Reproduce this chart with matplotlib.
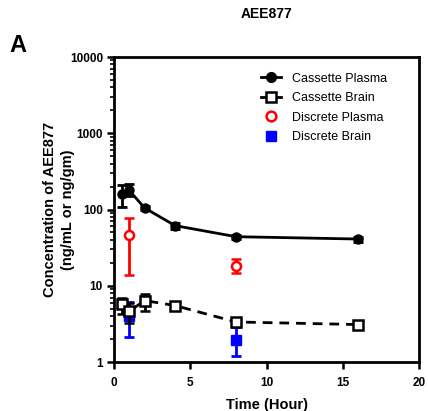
import matplotlib
matplotlib.use("Agg")
import matplotlib.pyplot as plt
from matplotlib.lines import Line2D
import numpy as np

plt.rcParams["font.family"] = ["Liberation Sans", "DejaVu Sans"]
plt.rcParams["font.weight"] = "bold"

# Cassette dosing (mean with low/high error limits)
cas_t = [0.5, 1, 2, 4, 8, 16]
cas_plasma = [161, 178, 105, 61.5, 44, 41]
cas_plasma_lo = [109, 152, 98, 56, 41, 38]
cas_plasma_hi = [211, 213, 112, 67, 47, 44]

cas_brain = [5.7, 4.6, 6.4, 5.5, 3.35, 3.1]
cas_brain_lo = [4.2, 3.2, 4.6, 5.1, 3.1, 2.95]
cas_brain_hi = [7.0, 5.9, 7.9, 5.9, 3.6, 3.25]

# Discrete dosing
dis_t = [1, 8]
dis_plasma = [46, 18.3]
dis_plasma_lo = [13.7, 14.7]
dis_plasma_hi = [78, 22.7]

dis_brain = [4.0, 1.96]
dis_brain_lo = [2.1, 1.2]
dis_brain_hi = [6.2, 2.9]

x_ticks = [0, 5, 10, 15, 20]
y_ticks = [1, 10, 100, 1000, 10000]
labels = ["Cassette Plasma", "Cassette Brain", "Discrete Plasma", "Discrete Brain"]


def err(mean, lo, hi):
    m = np.array(mean)
    return [m - np.array(lo), np.array(hi) - m]


fig = plt.figure(figsize=(4.28, 4.11), dpi=100)
ax = fig.add_axes([0.2664, 0.1192, 0.7126, 0.7421])

eb = dict(capsize=3.5, capthick=2, elinewidth=2)
ax.errorbar(cas_t, cas_plasma, yerr=err(cas_plasma, cas_plasma_lo, cas_plasma_hi),
            color="black", lw=2, marker="o", ms=6.5, zorder=4, **eb)
ax.errorbar(cas_t, cas_brain, yerr=err(cas_brain, cas_brain_lo, cas_brain_hi),
            color="black", lw=2, ls=(0, (3.5, 2.5)), marker="s", ms=6.5, mfc="white",
            mew=1.8, zorder=4, **eb)
ax.errorbar(dis_t, dis_plasma, yerr=err(dis_plasma, dis_plasma_lo, dis_plasma_hi),
            color="red", ls="none", marker="o", ms=6.5, mfc="white", mew=1.8,
            zorder=3, **eb)
ax.errorbar(dis_t, dis_brain, yerr=err(dis_brain, dis_brain_lo, dis_brain_hi),
            color="blue", ls="none", marker="s", ms=6.5, zorder=2, **eb)

ax.set_yscale("log")
ax.set_ylim(1, 10000)
ax.set_xlim(0, 20)
ax.set_xticks(x_ticks)
ax.set_yticks(y_ticks)
ax.set_yticklabels([str(v) for v in y_ticks])
ax.tick_params(axis="both", which="major", direction="out", width=1.8, length=5,
               labelsize=8.5, pad=3)
ax.tick_params(axis="x", which="major", pad=6)
ax.tick_params(axis="y", which="minor", direction="out", width=1.2, length=3)
for s in ax.spines.values():
    s.set_linewidth(2)

ax.set_xlabel("Time (Hour)", fontsize=10.5, fontweight="bold")
ax.set_ylabel("Concentration of AEE877\n(ng/mL or ng/gm)", fontsize=10.5,
              fontweight="bold", linespacing=1.4)
ax.yaxis.set_label_coords(-0.128, 0.5)
ax.xaxis.set_label_coords(0.5, -0.118)

fig.text(0.622, 0.966, "AEE877", ha="center", va="center", fontsize=10,
         fontweight="bold")
fig.text(0.042, 0.889, "A", ha="center", va="center", fontsize=17,
         fontweight="bold")

handles = [
    Line2D([], [], color="black", lw=2, marker="o", ms=7),
    Line2D([], [], color="black", lw=2, marker="s", ms=7, mfc="white", mew=1.8),
    Line2D([], [], color="red", ls="none", marker="o", ms=7, mfc="white", mew=1.8),
    Line2D([], [], color="blue", ls="none", marker="s", ms=7),
]
ax.legend(handles, labels, loc="upper left", bbox_to_anchor=(0.444, 0.985),
          frameon=False, handlelength=1.6, labelspacing=0.6, handletextpad=0.9,
          prop={"weight": "normal", "size": 9})

fig.savefig("out.png", dpi=100)
